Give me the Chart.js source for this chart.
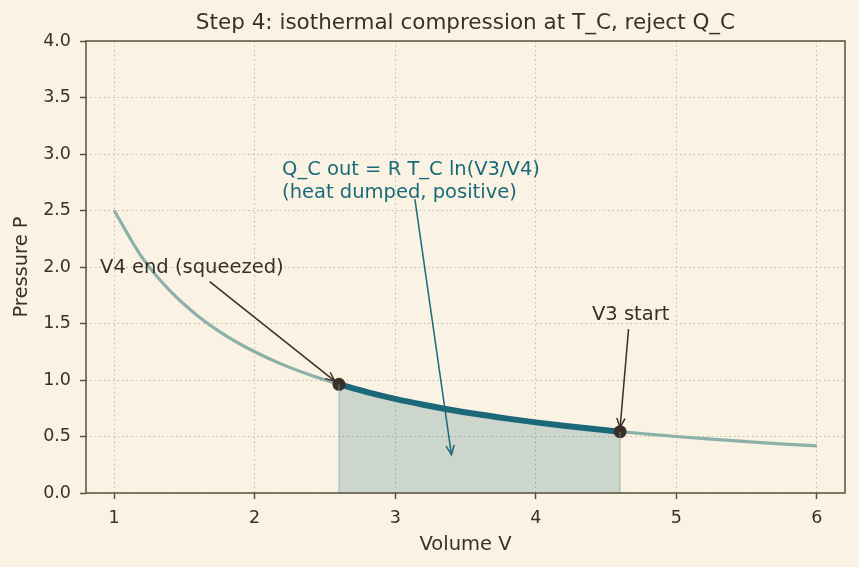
<!DOCTYPE html>
<html>
<head>
<meta charset="utf-8">
<script src="https://cdn.jsdelivr.net/npm/chart.js@4"></script>
<style>
  html,body{margin:0;padding:0;background:#faf2e3;}
  #wrap{width:859px;height:567px;}
</style>
</head>
<body>
<div id="wrap"><canvas id="c" width="859" height="567"></canvas></div>
<script>
// Volume values along the isotherm
const volumes = [1.0,1.2,1.4,1.6,1.8,2.0,2.2,2.4,2.6,2.8,3.0,3.2,3.4,3.6,3.8,4.0,4.2,4.4,4.6,4.8,5.0,5.2,5.4,5.6,5.8,6.0];
// Pressure values along the isotherm
const pressures = [2.500,2.083,1.786,1.563,1.389,1.250,1.136,1.042,0.962,0.893,0.833,0.781,0.735,0.694,0.658,0.625,0.595,0.568,0.543,0.521,0.500,0.481,0.463,0.446,0.431,0.417];
// Compression segment: between V4 (end) and V3 (start)
const segStartV = 2.6;
const segEndV = 4.6;
// State points
const stateV = [2.6, 4.6];
const stateP = [0.962, 0.543];
// Tick labels
const xTicks = [1,2,3,4,5,6];
const yTicks = [0.0,0.5,1.0,1.5,2.0,2.5,3.0,3.5,4.0];

const titleText = 'Step 4: isothermal compression at T_C, reject Q_C';
const xTitle = 'Volume V';
const yTitle = 'Pressure P';

// annotations: text lines, text anchor (data), arrow tail (data), arrow head (data), colour
const annotations = [
  {lines:['V4 end (squeezed)'], tx:0.90, ty:1.995, from:[1.68,1.87], to:[2.57,0.99], color:'#3a2e2a'},
  {lines:['V3 start'], tx:4.40, ty:1.58, from:[4.66,1.45], to:[4.60,0.58], color:'#3a2e2a'},
  {lines:['Q_C out = R T_C ln(V3/V4)','(heat dumped, positive)'], tx:2.195, ty:2.855, from:[3.14,2.60], to:[3.40,0.34], color:'#1a6b7a'}
];

const allPts = volumes.map((v,i)=>({x:v,y:pressures[i]}));
const segPts = allPts.filter(p=>p.x>=segStartV-1e-9 && p.x<=segEndV+1e-9);
const statePts = stateV.map((v,i)=>({x:v,y:stateP[i]}));

const FONT = "'DejaVu Sans', sans-serif";
const TXT = '#3a302a';
const FRAME = '#5a5040';
const GRID = '#c2b9a9';

const overlay = {
  id:'overlay',
  beforeDraw(chart){
    const {ctx} = chart;
    ctx.save();
    ctx.fillStyle = '#faf2e3';
    ctx.fillRect(0,0,chart.width,chart.height);
    ctx.restore();
  },
  afterDatasetsDraw(chart){
    const {ctx, chartArea:a, scales:{x,y}} = chart;
    ctx.save();
    // fill edges
    ctx.strokeStyle = 'rgba(120,170,150,0.45)';
    ctx.lineWidth = 1.5;
    [[segStartV, stateP[0]],[segEndV, stateP[1]]].forEach(([v,p])=>{
      const px = x.getPixelForValue(v);
      ctx.beginPath(); ctx.moveTo(px, y.getPixelForValue(0)); ctx.lineTo(px, y.getPixelForValue(p)); ctx.stroke();
    });
    // annotations
    annotations.forEach(an=>{
      ctx.font = '19.5px ' + FONT;
      ctx.fillStyle = an.color;
      ctx.textAlign = 'left';
      ctx.textBaseline = 'middle';
      const px = x.getPixelForValue(an.tx);
      const py = y.getPixelForValue(an.ty);
      an.lines.forEach((l,i)=>ctx.fillText(l, px, py + i*23));
      const x1 = x.getPixelForValue(an.from[0]), y1 = y.getPixelForValue(an.from[1]);
      const x2 = x.getPixelForValue(an.to[0]), y2 = y.getPixelForValue(an.to[1]);
      ctx.strokeStyle = an.color;
      ctx.lineWidth = 1.5;
      ctx.beginPath(); ctx.moveTo(x1,y1); ctx.lineTo(x2,y2); ctx.stroke();
      const ang = Math.atan2(y2-y1, x2-x1);
      const L = 10, w = 0.42;
      ctx.beginPath();
      ctx.moveTo(x2 - L*Math.cos(ang-w), y2 - L*Math.sin(ang-w));
      ctx.lineTo(x2,y2);
      ctx.lineTo(x2 - L*Math.cos(ang+w), y2 - L*Math.sin(ang+w));
      ctx.stroke();
    });
    // frame
    ctx.strokeStyle = FRAME;
    ctx.lineWidth = 1.5;
    ctx.strokeRect(a.left, a.top, a.right-a.left, a.bottom-a.top);
    // title
    ctx.font = '21.5px ' + FONT;
    ctx.fillStyle = TXT;
    ctx.textAlign = 'center';
    ctx.textBaseline = 'middle';
    ctx.fillText(titleText, (a.left+a.right)/2, 23);
    // axis titles
    ctx.font = '19.5px ' + FONT;
    ctx.fillText(xTitle, (a.left+a.right)/2, 545);
    ctx.save();
    ctx.translate(22, (a.top+a.bottom)/2);
    ctx.rotate(-Math.PI/2);
    ctx.fillText(yTitle, 0, 0);
    ctx.restore();
    ctx.restore();
  }
};

new Chart(document.getElementById('c'), {
  type:'scatter',
  data:{
    datasets:[
      {label:'fill', data:segPts, showLine:true, fill:'origin', backgroundColor:'rgba(26,104,120,0.2)', borderColor:'rgba(0,0,0,0)', borderWidth:0, pointRadius:0, cubicInterpolationMode:'monotone', order:5},
      {label:'iso', data:allPts, showLine:true, fill:false, borderColor:'#8cb0aa', borderWidth:3.2, pointRadius:0, cubicInterpolationMode:'monotone', order:4},
      {label:'seg', data:segPts, showLine:true, fill:false, borderColor:'#1a6878', borderWidth:6, pointRadius:0, cubicInterpolationMode:'monotone', borderCapStyle:'butt', order:3},
      {label:'pts', data:statePts, showLine:false, pointRadius:6.5, pointBackgroundColor:'#3a2e2a', pointBorderColor:'#3a2e2a', borderWidth:0, order:1}
    ]
  },
  options:{
    responsive:false,
    animation:false,
    events:[],
    layout:{padding:{left:0,right:14,top:41,bottom:0}},
    plugins:{legend:{display:false}, tooltip:{enabled:false}, title:{display:false}},
    scales:{
      x:{
        type:'linear', min:0.8, max:6.2,
        afterBuildTicks(s){ s.ticks = xTicks.map(v=>({value:v})); },
        afterFit(s){ s.height = 74; },
        ticks:{color:TXT, font:{family:FONT,size:17.5}, padding:9, callback:v=>String(v), maxRotation:0},
        grid:{color:GRID, lineWidth:1, tickColor:FRAME, tickLength:6, tickBorderDash:[], tickWidth:1.5, drawOnChartArea:true},
        border:{display:false, dash:[1.5,3]},
        title:{display:false}
      },
      y:{
        type:'linear', min:0, max:4,
        afterBuildTicks(s){ s.ticks = yTicks.map(v=>({value:v})); },
        afterFit(s){ s.width = 86; },
        ticks:{color:TXT, font:{family:FONT,size:17.5}, padding:9, callback:v=>Number(v).toFixed(1)},
        grid:{color:GRID, lineWidth:1, tickColor:FRAME, tickLength:6, tickBorderDash:[], tickWidth:1.5},
        border:{display:false, dash:[1.5,3]},
        title:{display:false}
      }
    }
  },
  plugins:[overlay]
});
</script>
</body>
</html>
